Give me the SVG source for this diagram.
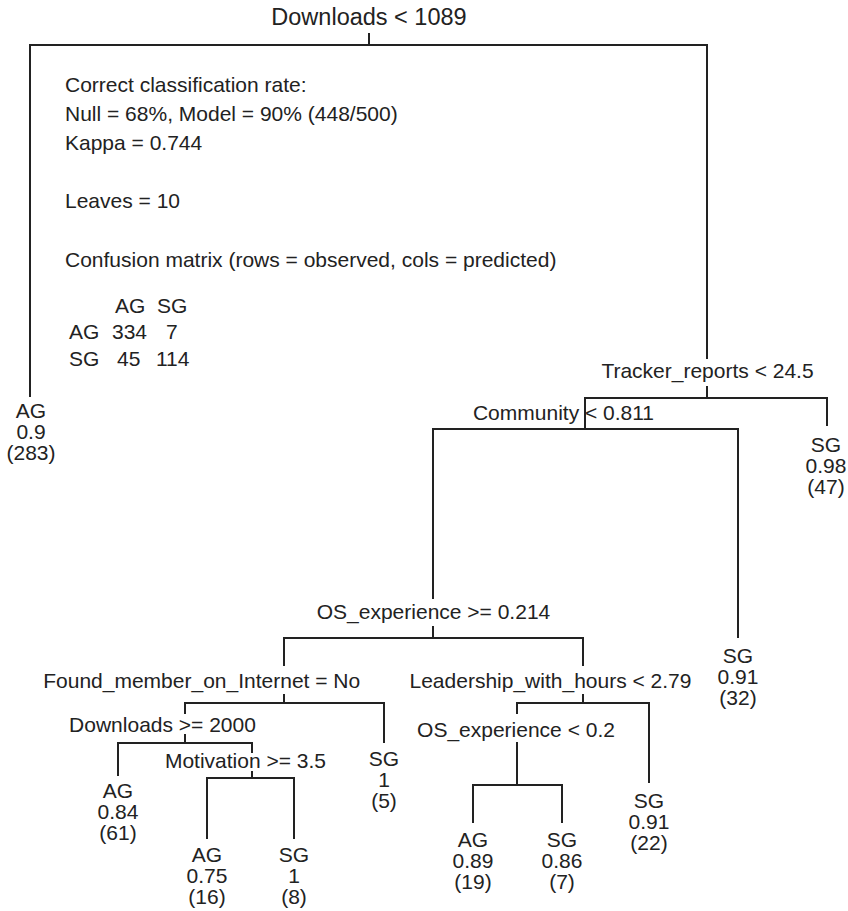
<svg xmlns="http://www.w3.org/2000/svg" width="848" height="911" viewBox="0 0 848 911">
  <style>
    text { font-family: "Liberation Sans", Arial, Helvetica, sans-serif; font-size: 21px; fill: #222; }
    .c { text-anchor: middle; }
    .title { font-size: 23.5px; }
    .edge { fill: none; stroke: #222; stroke-width: 2; stroke-linecap: square; }
  </style>
  <rect width="848" height="911" fill="#fff"/>

  <!-- branches of the classification tree -->
  <g id="connectors" class="edge">
    <!-- root: Downloads < 1089 -->
    <path d="M369 34 V45 M30 45 H707 M30 45 V396 M707 45 V358"/>
    <!-- Tracker_reports < 24.5 -->
    <path d="M707 387 V398 M585 398 H827 M827 398 V425 M585 398 V429"/>
    <!-- Community < 0.811 -->
    <path d="M433 429 H738 M738 429 V637 M433 429 V598"/>
    <!-- OS_experience >= 0.214 -->
    <path d="M433 627 V638 M284 638 H583 M284 638 V665 M583 638 V665"/>
    <!-- Found_member_on_Internet = No -->
    <path d="M284 695 V703 M185 703 H384 M384 703 V742 M185 703 V713"/>
    <!-- Downloads >= 2000 -->
    <path d="M185 735 V743 M118 743 H252 M118 743 V775 M252 743 V752"/>
    <!-- Motivation >= 3.5 -->
    <path d="M252 772 V778 M207 778 H294 M207 778 V838 M294 778 V838"/>
    <!-- Leadership_with_hours < 2.79 -->
    <path d="M583 695 V703 M517 703 H649 M649 703 V782 M517 703 V713"/>
    <!-- OS_experience < 0.2 -->
    <path d="M517 743 V785 M473 785 H562 M473 785 V822 M562 785 V822"/>
  </g>

  <!-- model summary -->
  <g id="summary">
    <text x="65" y="92">Correct classification rate:</text>
    <text x="65" y="121">Null = 68%, Model = 90% (448/500)</text>
    <text x="65" y="150">Kappa = 0.744</text>
    <text x="65" y="208">Leaves = 10</text>
    <text x="65" y="267">Confusion matrix (rows = observed, cols = predicted)</text>
    <text y="313"><tspan x="115">AG</tspan><tspan x="157">SG</tspan></text>
    <text y="339"><tspan x="69">AG</tspan><tspan x="112">334</tspan><tspan x="166">7</tspan></text>
    <text y="366"><tspan x="69">SG</tspan><tspan x="117">45</tspan><tspan x="156">114</tspan></text>
  </g>

  <!-- split nodes -->
  <g id="n-root"><text class="c title" x="369" y="25">Downloads &lt; 1089</text></g>
  <g id="n-tracker"><text class="c" x="707.5" y="378">Tracker_reports &lt; 24.5</text></g>
  <g id="n-community"><text class="c" x="563.5" y="420">Community &lt; 0.811</text></g>
  <g id="n-osexp1"><text class="c" x="433.5" y="619">OS_experience &gt;= 0.214</text></g>
  <g id="n-found"><text class="c" x="201.7" y="688">Found_member_on_Internet = No</text></g>
  <g id="n-leadership"><text class="c" x="550.5" y="688">Leadership_with_hours &lt; 2.79</text></g>
  <g id="n-downloads2"><text class="c" x="162.5" y="732">Downloads &gt;= 2000</text></g>
  <g id="n-motivation"><text class="c" x="245.5" y="768">Motivation &gt;= 3.5</text></g>
  <g id="n-osexp2"><text class="c" x="516" y="737">OS_experience &lt; 0.2</text></g>

  <!-- leaves: class, probability, count -->
  <g id="leaf-283" class="c"><text class="c" x="31" y="418">AG</text><text class="c" x="31" y="439">0.9</text><text class="c" x="31" y="460">(283)</text></g>
  <g id="leaf-47"><text class="c" x="826" y="452">SG</text><text class="c" x="826" y="473">0.98</text><text class="c" x="826" y="494">(47)</text></g>
  <g id="leaf-32"><text class="c" x="738" y="663">SG</text><text class="c" x="738" y="684">0.91</text><text class="c" x="738" y="705">(32)</text></g>
  <g id="leaf-5"><text class="c" x="384" y="766">SG</text><text class="c" x="384" y="787">1</text><text class="c" x="384" y="808">(5)</text></g>
  <g id="leaf-61"><text class="c" x="118" y="798">AG</text><text class="c" x="118" y="819">0.84</text><text class="c" x="118" y="840">(61)</text></g>
  <g id="leaf-16"><text class="c" x="207" y="862">AG</text><text class="c" x="207" y="883">0.75</text><text class="c" x="207" y="904">(16)</text></g>
  <g id="leaf-8"><text class="c" x="294" y="862">SG</text><text class="c" x="294" y="883">1</text><text class="c" x="294" y="904">(8)</text></g>
  <g id="leaf-22"><text class="c" x="649" y="808">SG</text><text class="c" x="649" y="829">0.91</text><text class="c" x="649" y="850">(22)</text></g>
  <g id="leaf-19"><text class="c" x="473" y="847">AG</text><text class="c" x="473" y="868">0.89</text><text class="c" x="473" y="889">(19)</text></g>
  <g id="leaf-7"><text class="c" x="562" y="847">SG</text><text class="c" x="562" y="868">0.86</text><text class="c" x="562" y="889">(7)</text></g>
</svg>
